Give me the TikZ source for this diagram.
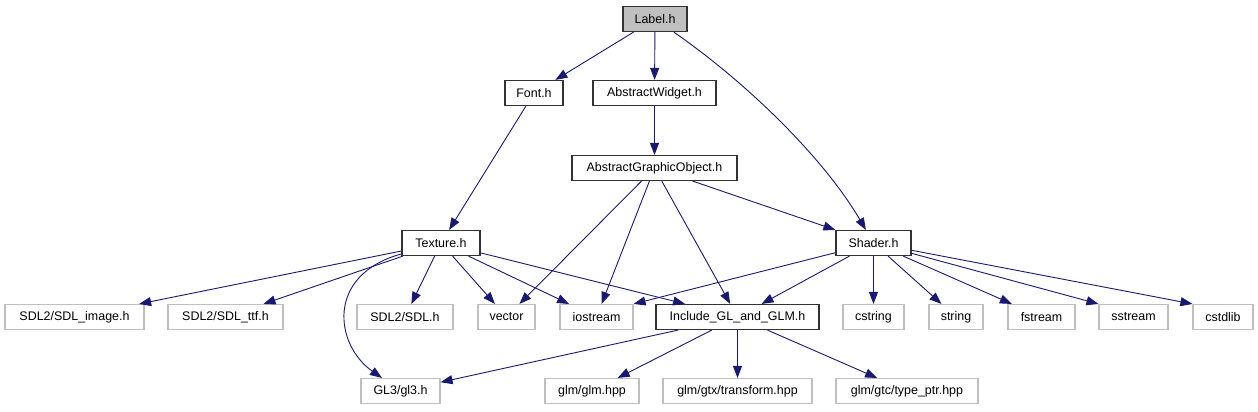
\documentclass[tikz,border=0pt]{standalone}
\usepackage{fontspec}
\setmainfont{Liberation Sans}
\usetikzlibrary{arrows.meta}
\definecolor{edgeblue}{HTML}{191970}
\definecolor{leafgray}{HTML}{BFBFBF}
\begin{document}
\begin{tikzpicture}[x=1bp, y=-1bp, font=\fontsize{12.5}{14}\selectfont,
          >={Triangle[length=12bp, width=9bp]},
          hdr/.style={draw=black!80, line width=1.2bp, fill=white, minimum height=25bp, inner sep=0pt},
          sys/.style={draw=leafgray, line width=1.1bp, fill=white, minimum height=25bp, inner sep=0pt},
          dep/.style={->, edgeblue, line width=0.9bp}]
        \fill[white] (0,0) rectangle (1258,411);
        \useasboundingbox (0,0) rectangle (1258,411);
        % project headers
        \node[hdr, fill=leafgray, minimum width=64bp] (lbl) at (655,19) {Label.h};
        \node[hdr, minimum width=58bp] (fnt) at (534,93) {Font.h};
        \node[hdr, minimum width=123bp] (wdg) at (654.5,93) {AbstractWidget.h};
        \node[hdr, minimum width=165bp] (ago) at (654.5,168) {AbstractGraphicObject.h};
        \node[hdr, minimum width=78bp] (tex) at (441,243) {Texture.h};
        \node[hdr, minimum width=75bp] (shd) at (873.5,243) {Shader.h};
        \node[hdr, minimum width=163bp] (inc) at (737.5,317) {Include\_GL\_and\_GLM.h};
        % system headers
        \node[sys, minimum width=139bp] (sdlimg) at (74.5,317) {SDL2/SDL\_image.h};
        \node[sys, minimum width=115bp] (sdlttf) at (225.5,317) {SDL2/SDL\_ttf.h};
        \node[sys, minimum width=96bp] (sdl) at (405,317) {SDL2/SDL.h};
        \node[sys, minimum width=57bp] (vec) at (506.5,317) {vector};
        \node[sys, minimum width=73bp] (ios) at (596.5,317) {iostream};
        \node[sys, minimum width=61bp] (cstr) at (873.5,317) {cstring};
        \node[sys, minimum width=54bp] (str) at (956,317) {string};
        \node[sys, minimum width=67bp] (fstr) at (1041.5,317) {fstream};
        \node[sys, minimum width=69bp] (sstr) at (1133.5,317) {sstream};
        \node[sys, minimum width=60bp] (cstd) at (1223,317) {cstdlib};
        \node[sys, minimum width=79bp] (gl3) at (400.5,391) {GL3/gl3.h};
        \node[sys, minimum width=94bp] (glm) at (592,391) {glm/glm.hpp};
        \node[sys, minimum width=149bp] (gtx) at (737.5,391) {glm/gtx/transform.hpp};
        \node[sys, minimum width=142bp] (gtc) at (907,391) {glm/gtc/type\_ptr.hpp};
        % includes
        \draw[dep] (lbl) -- (fnt);
        \draw[dep] (lbl) -- (wdg);
        \draw[dep] (lbl) .. controls (750,85) and (825,160) .. (shd);
        \draw[dep] (fnt) -- (tex);
        \draw[dep] (wdg) -- (ago);
        \foreach \dst in {vec,ios,inc,shd}
          \draw[dep] (ago) -- (\dst);
        \foreach \dst in {sdlimg,sdlttf,sdl,vec,ios,inc}
          \draw[dep] (tex) -- (\dst);
        \draw[dep] (tex) .. controls (325,275) and (335,345) .. (gl3);
        \draw[dep] (shd) -- (ios.north east);
        \foreach \dst in {inc,cstr,str,fstr}
          \draw[dep] (shd) -- (\dst);
        \draw[dep] (shd) -- (sstr.north west);
        \draw[dep] (shd) -- (cstd.north west);
        \foreach \dst in {gl3,glm,gtx,gtc}
          \draw[dep] (inc) -- (\dst);
      \end{tikzpicture}
\end{document}
